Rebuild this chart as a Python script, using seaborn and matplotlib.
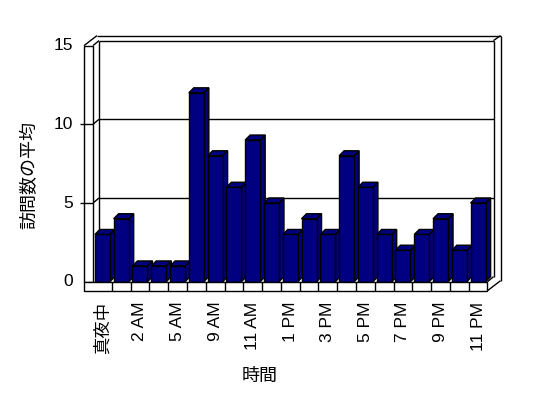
import matplotlib
matplotlib.use('Agg')
import matplotlib.pyplot as plt
import seaborn as sns
import pandas as pd
from matplotlib.patches import Polygon, Rectangle
from matplotlib.lines import Line2D

categories = ['真夜中', '1 AM', '2 AM', '4 AM', '5 AM', '8 AM', '9 AM', '10 AM', '11 AM',
              '正午', '1 PM', '2 PM', '3 PM', '4 PM', '5 PM', '6 PM', '7 PM', '8 PM',
              '9 PM', '10 PM', '11 PM']
values = [3, 4, 1, 1, 1, 12, 8, 6, 9, 5, 3, 4, 3, 8, 6, 3, 2, 3, 4, 2, 5]
yticks = [0, 5, 10, 15]
xlabel = '時間'
ylabel = '訪問数の平均'

sns.set_theme(style='white')
plt.rcParams['font.family'] = ['Liberation Sans', 'Noto Sans CJK JP', 'DejaVu Sans']

W, H = 548, 398
fig = plt.figure(figsize=(W / 100, H / 100), dpi=100)
fig.patch.set_facecolor('white')
L, R, B, T = 93.0, 487.5, 281.7, 45.6
ax = fig.add_axes([L / W, 1 - B / H, (R - L) / W, (B - T) / H])

n = len(categories)
df = pd.DataFrame({'cat': categories, 'val': values})
sns.barplot(data=df, x='cat', y='val', color='#000080', saturation=1,
            edgecolor='black', linewidth=1, width=0.8, ax=ax)
ax.set_xlim(-0.5, n - 0.5)
ax.set_ylim(0, 15)
ax.axis('off')

sx = (R - L) / n
sy = (B - T) / 15.0


def off(dxp, dyp):
    return dxp / sx, dyp / sy


NAVY = '#000080'
bd = off(5, 5)        # bar depth
d1 = off(6, 5)        # back wall inner plane
d2 = off(13, 10)      # back wall outer plane
ft = 9 / sy           # floor thickness
xi = -0.5
xo = -0.5 - 9 / sx
xr = n - 0.5
lw = 1.0


def line(xs, ys, z=3):
    ax.add_line(Line2D(xs, ys, color='black', lw=lw, clip_on=False, zorder=z,
                       solid_capstyle='butt'))


# back wall
ax.add_patch(Polygon([(xi + d1[0], d1[1]), (xr + d1[0], d1[1]), (xr + d1[0], 15 + d1[1]),
                      (xi + d1[0], 15 + d1[1])], closed=True, facecolor='white',
                     edgecolor='none', clip_on=False, zorder=1))
for g in yticks[1:-1]:
    line([xi + d1[0], xr + d1[0]], [g + d1[1], g + d1[1]], z=2)
    line([xi, xi + d1[0]], [g, g + d1[1]], z=2)
    line([xo - 4 / sx, xi], [g, g], z=5)
# back wall outlines
line([xi + d1[0], xr + d1[0]], [15 + d1[1], 15 + d1[1]])
line([xo + d2[0], xr + d2[0]], [15 + d2[1], 15 + d2[1]])
line([xi + d1[0], xi + d1[0]], [d1[1], 15 + d1[1]], z=2)
line([xr + d1[0], xr + d1[0]], [d1[1], 15 + d1[1]])
line([xr + d2[0], xr + d2[0]], [-ft + d2[1], 15 + d2[1]])
line([xr + d1[0], xr + d2[0]], [15 + d1[1], 15 + d2[1]])
# left wall
ax.add_patch(Rectangle((xo, 0), xi - xo, 15, facecolor='white', edgecolor='black',
                       lw=lw, clip_on=False, zorder=4))
line([xo, xo + d2[0]], [15, 15 + d2[1]])
line([xi, xi + d1[0]], [15, 15 + d1[1]])
# floor
ax.add_patch(Rectangle((xo, -ft), xr - xo, ft, facecolor='white', edgecolor='black',
                       lw=lw, clip_on=False, zorder=60))
for i in range(n - 1):
    line([i + 0.5, i + 0.5], [-ft, 0], z=61)
line([xr, xr + d2[0]], [-ft, -ft + d2[1]])
line([xr, xr + d1[0]], [0, d1[1]])

# 3D bar faces
for i, p in enumerate(ax.patches[:n]):
    x0 = p.get_x()
    w = p.get_width()
    h = p.get_height()
    x1 = x0 + w
    z0 = 10 + 2 * i
    side = Polygon([(x1, 0), (x1 + bd[0], bd[1]), (x1 + bd[0], h + bd[1]), (x1, h)],
                   closed=True, facecolor=NAVY, edgecolor='black', lw=lw,
                   clip_on=False, zorder=z0)
    top = Polygon([(x0, h), (x1, h), (x1 + bd[0], h + bd[1]), (x0 + bd[0], h + bd[1])],
                  closed=True, facecolor=NAVY, edgecolor='black', lw=lw,
                  clip_on=False, zorder=z0)
    ax.add_patch(side)
    ax.add_patch(top)
    p.set_zorder(z0 + 1)
    p.set_clip_on(False)

# tick labels
for g in yticks:
    ax.text(xo - 11 / sx, g, str(g), ha='right', va='center', fontsize=12.5,
            color='black')
for i, c in enumerate(categories):
    if i % 2 == 0:
        ax.text(i, -20 / sy, c, rotation=90, ha='center', va='top', fontsize=12.5,
                color='black')

fig.text(260 / W, 1 - 376 / H, xlabel, ha='center', va='center', fontsize=13,
         color='black')
fig.text(30 / W, 1 - 175 / H, ylabel, ha='center', va='center', rotation=90,
         fontsize=13, color='black')

fig.savefig('out.png', dpi=100, facecolor='white')
